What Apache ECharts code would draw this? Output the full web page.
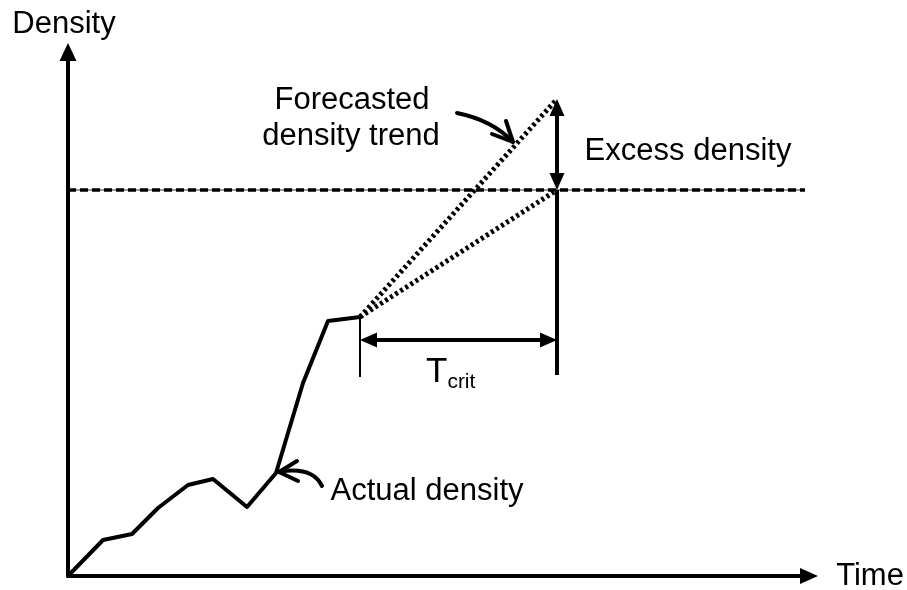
<!DOCTYPE html>
<html>
<head>
<meta charset="utf-8">
<script src="https://cdn.jsdelivr.net/npm/echarts@6/dist/echarts.min.js"></script>
<style>
html,body{margin:0;padding:0;background:#fff;}
#chart{width:907px;height:590px;}
</style>
</head>
<body>
<div id="chart"></div>
<script>
// ---- data (time units / density units) ----
const actualTime    = [0, 35, 64, 90, 120, 145, 179, 208, 235, 260, 292];
const actualDensity = [0, 36, 42, 68, 91, 97, 69, 103, 193, 255, 259];
const forecastHighTime    = [292, 489];
const forecastHighDensity = [259, 477];
const forecastLowTime     = [292, 489];
const forecastLowDensity  = [259, 386];
const criticalDensity = 386;
const thresholdTime = [0, 737];
const tcritStart = 292;
const tcritEnd = 489;
const tcritLevel = 236;
const tcritLowDensity = 199;
const decisionLowDensity = 201;
const timeMax = 741;
const densityMax = 524;

const zip = (a, b) => a.map((v, i) => [v, b[i]]);
const FONT = 'Liberation Sans, Arial, sans-serif';
const ARROW_LEN = 17;          // arrowhead length in px (1 data unit = 1 px here)
const inset = ARROW_LEN / 2;   // triangle symbols are centred on the end point

const chart = echarts.init(document.getElementById('chart'), null, {renderer: 'canvas'});

const option = {
  backgroundColor: '#ffffff',
  animation: false,
  grid: {left: 68, top: 52, right: 98, bottom: 14},
  xAxis: {
    type: 'value', min: 0, max: timeMax,
    axisLine: {onZero: false, show: true, symbol: ['none', 'triangle'], symbolSize: [16, 18],
      lineStyle: {color: '#000', width: 4}},
    axisTick: {show: false}, axisLabel: {show: false}, splitLine: {show: false}
  },
  yAxis: {
    type: 'value', min: 0, max: densityMax,
    axisLine: {onZero: false, show: true, symbol: ['none', 'triangle'], symbolSize: [17, 18],
      lineStyle: {color: '#000', width: 4}},
    axisTick: {show: false}, axisLabel: {show: false}, splitLine: {show: false}
  },
  series: [
    { // thin grey base of threshold line
      type: 'line', data: zip(thresholdTime, [criticalDensity, criticalDensity]),
      symbol: 'none', lineStyle: {color: '#777', width: 1.5}, z: 2
    },
    { // dashed threshold
      type: 'line', data: zip(thresholdTime, [criticalDensity, criticalDensity]),
      symbol: 'none', lineStyle: {color: '#000', width: 3.5, type: [8, 4]}, z: 3
    },
    {
      name: 'Actual density', type: 'line', data: zip(actualTime, actualDensity),
      symbol: 'none', lineStyle: {color: '#000', width: 4, join: 'round'}, z: 5
    },
    {
      type: 'line', data: zip(forecastHighTime, forecastHighDensity),
      symbol: 'none', lineStyle: {color: '#000', width: 5, type: [3, 3]}, z: 4
    },
    {
      type: 'line', data: zip(forecastLowTime, forecastLowDensity),
      symbol: 'none', lineStyle: {color: '#000', width: 5, type: [3, 3]}, z: 4
    },
    { // vertical marker lines
      type: 'line', data: zip([tcritEnd, tcritEnd], [criticalDensity, decisionLowDensity]),
      symbol: 'none', lineStyle: {color: '#000', width: 4}, z: 4
    },
    {
      type: 'line', data: zip([tcritStart, tcritStart], [forecastLowDensity[0], tcritLowDensity]),
      symbol: 'none', lineStyle: {color: '#000', width: 2}, z: 4
    },
    { // double arrows
      type: 'line', data: [], symbol: 'none',
      markLine: {
        silent: true, animation: false,
        symbol: ['triangle', 'triangle'], symbolSize: [15, ARROW_LEN],
        label: {show: false},
        lineStyle: {color: '#000', width: 4, type: 'solid'},
        data: [
          [{coord: [tcritStart + inset, tcritLevel]}, {coord: [tcritEnd - inset, tcritLevel]}],
          [{coord: [tcritEnd, criticalDensity + inset]}, {coord: [tcritEnd, forecastHighDensity[1] - inset]}]
        ]
      }
    }
  ],
  graphic: [
    {type: 'text', x: 64, y: 24, style: {text: 'Density', font: '31px ' + FONT, fill: '#000', align: 'center', verticalAlign: 'middle'}},
    {type: 'text', x: 870, y: 576, style: {text: 'Time', font: '31px ' + FONT, fill: '#000', align: 'center', verticalAlign: 'middle'}},
    {type: 'text', x: 352, y: 100, style: {text: 'Forecasted', font: '31px ' + FONT, fill: '#000', align: 'center', verticalAlign: 'middle'}},
    {type: 'text', x: 351, y: 136, style: {text: 'density trend', font: '31px ' + FONT, fill: '#000', align: 'center', verticalAlign: 'middle'}},
    {type: 'text', x: 688, y: 151, style: {text: 'Excess density', font: '31px ' + FONT, fill: '#000', align: 'center', verticalAlign: 'middle'}},
    {type: 'text', x: 427, y: 491, style: {text: 'Actual density', font: '31px ' + FONT, fill: '#000', align: 'center', verticalAlign: 'middle'}},
    {type: 'text', x: 426, y: 372, style: {
      text: '{t|T}{s|crit}', verticalAlign: 'middle', align: 'left',
      rich: {t: {font: '35px ' + FONT, fill: '#000'}, s: {font: '21px ' + FONT, fill: '#000', verticalAlign: 'bottom', padding: [20, 0, 0, 0]}}
    }},
    // curved annotation arrows
    {type: 'bezierCurve', shape: {x1: 457, y1: 113, cpx1: 492, cpy1: 120, x2: 513, y2: 142}, style: {stroke: '#000', lineWidth: 4, fill: 'none', lineCap: 'round'}},
    {type: 'polyline', shape: {points: [[506, 121], [513, 142], [492, 134]]}, style: {stroke: '#000', lineWidth: 4, fill: 'none', lineCap: 'round', lineJoin: 'round'}},
    {type: 'bezierCurve', shape: {x1: 322, y1: 486, cpx1: 312, cpy1: 466, x2: 279, y2: 472}, style: {stroke: '#000', lineWidth: 4, fill: 'none', lineCap: 'round'}},
    {type: 'polyline', shape: {points: [[297, 461], [279, 472], [298, 481]]}, style: {stroke: '#000', lineWidth: 4, fill: 'none', lineCap: 'round', lineJoin: 'round'}}
  ]
};
chart.setOption(option);
</script>
</body>
</html>
